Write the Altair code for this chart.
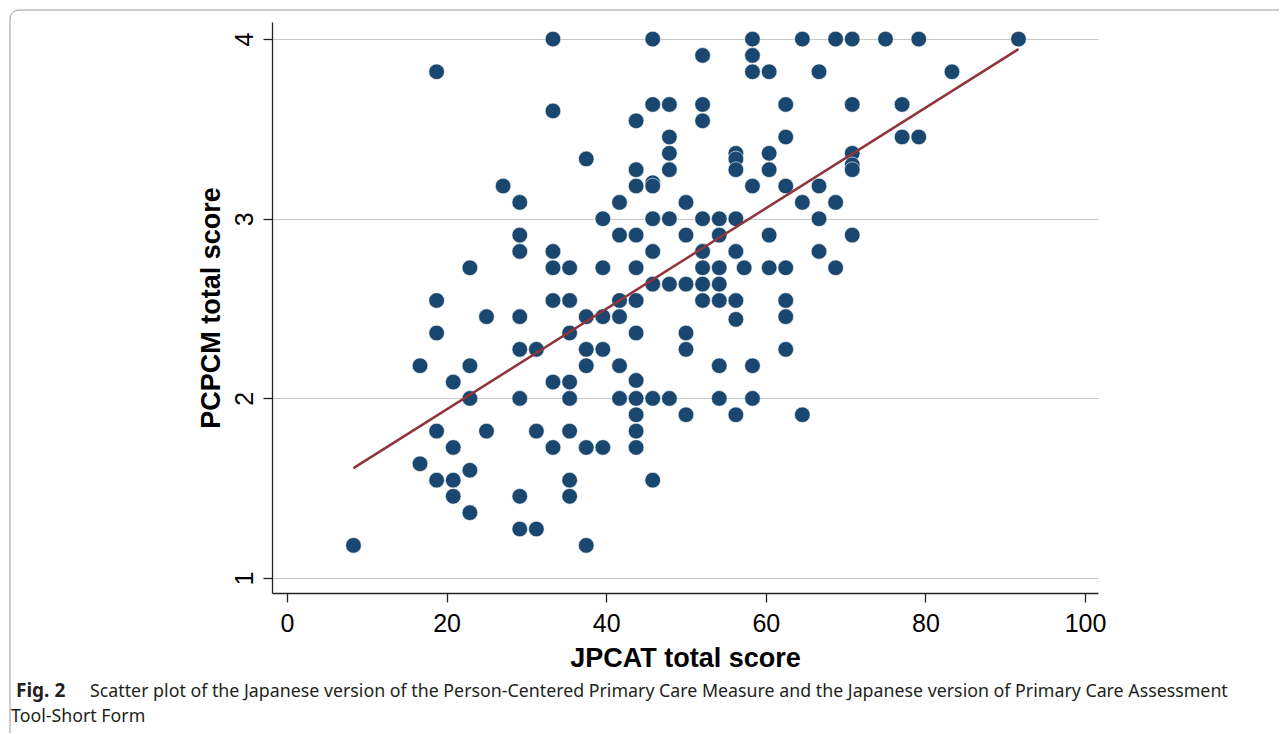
import altair as alt
import pandas as pd

# JPCAT total score (x) for each respondent, grouped by PCPCM level
jpcat = [
    33.33, 45.83, 58.33, 64.58, 68.75, 70.83, 75.0, 79.17, 91.67,
    52.08, 58.33,
    18.75, 58.33, 60.42, 66.67, 83.33,
    45.83, 47.92, 52.08, 62.5, 70.83, 77.08,
    33.33,
    43.75, 52.08,
    47.92, 62.5, 77.08, 79.17,
    47.92, 56.25, 60.42, 70.83,
    37.5, 56.25,
    70.83,
    43.75, 47.92, 56.25, 60.42, 70.83,
    45.83,
    27.08, 43.75, 45.83, 58.33, 62.5, 66.67,
    29.17, 41.67, 50.0, 64.58, 68.75,
    39.58, 45.83, 47.92, 52.08, 54.17, 56.25, 66.67,
    29.17, 41.67, 43.75, 50.0, 54.17, 60.42, 70.83,
    29.17, 33.33, 45.83, 52.08, 56.25, 66.67,
    22.92, 33.33, 35.42, 39.58, 43.75, 52.08, 54.17, 57.29, 60.42, 62.5, 68.75,
    45.83, 47.92, 50.0, 52.08, 54.17,
    18.75, 33.33, 35.42, 41.67, 43.75, 52.08, 54.17, 56.25, 62.5,
    25.0, 29.17, 37.5, 39.58, 41.67, 62.5,
    56.25,
    18.75, 35.42, 43.75, 50.0,
    29.17, 31.25, 37.5, 39.58, 50.0, 62.5,
    16.67, 22.92, 37.5, 41.67, 54.17, 58.33,
    20.83, 33.33, 35.42, 43.75,
    22.92, 29.17, 35.42, 41.67, 43.75, 45.83, 47.92, 54.17, 58.33,
    43.75, 50.0, 56.25, 64.58,
    18.75, 25.0, 31.25, 35.42, 43.75,
    20.83, 33.33, 37.5, 39.58, 43.75,
    16.67,
    22.92,
    18.75, 20.83, 35.42, 45.83,
    20.83, 29.17, 35.42,
    22.92,
    29.17, 31.25,
    8.33, 37.5,
]

# PCPCM total score (y), same order
pcpcm = [
    4.0, 4.0, 4.0, 4.0, 4.0, 4.0, 4.0, 4.0, 4.0,
    3.909, 3.909,
    3.818, 3.818, 3.818, 3.818, 3.818,
    3.636, 3.636, 3.636, 3.636, 3.636, 3.636,
    3.6,
    3.545, 3.545,
    3.455, 3.455, 3.455, 3.455,
    3.364, 3.364, 3.364, 3.364,
    3.333, 3.333,
    3.3,
    3.273, 3.273, 3.273, 3.273, 3.273,
    3.2,
    3.182, 3.182, 3.182, 3.182, 3.182, 3.182,
    3.091, 3.091, 3.091, 3.091, 3.091,
    3.0, 3.0, 3.0, 3.0, 3.0, 3.0, 3.0,
    2.909, 2.909, 2.909, 2.909, 2.909, 2.909, 2.909,
    2.818, 2.818, 2.818, 2.818, 2.818, 2.818,
    2.727, 2.727, 2.727, 2.727, 2.727, 2.727, 2.727, 2.727, 2.727, 2.727, 2.727,
    2.636, 2.636, 2.636, 2.636, 2.636,
    2.545, 2.545, 2.545, 2.545, 2.545, 2.545, 2.545, 2.545, 2.545,
    2.455, 2.455, 2.455, 2.455, 2.455, 2.455,
    2.44,
    2.364, 2.364, 2.364, 2.364,
    2.273, 2.273, 2.273, 2.273, 2.273, 2.273,
    2.182, 2.182, 2.182, 2.182, 2.182, 2.182,
    2.091, 2.091, 2.091, 2.1,
    2.0, 2.0, 2.0, 2.0, 2.0, 2.0, 2.0, 2.0, 2.0,
    1.909, 1.909, 1.909, 1.909,
    1.818, 1.818, 1.818, 1.818, 1.818,
    1.727, 1.727, 1.727, 1.727, 1.727,
    1.636,
    1.6,
    1.545, 1.545, 1.545, 1.545,
    1.455, 1.455, 1.455,
    1.364,
    1.273, 1.273,
    1.182, 1.182,
]

# fitted linear regression line (end points)
fit_x = [8.33, 91.67]
fit_y = [1.612, 3.944]

x_ticks = [0, 20, 40, 60, 80, 100]
y_ticks = [1, 2, 3, 4]
x_title = "JPCAT total score"
y_title = "PCPCM total score"
caption_label = "Fig. 2"
caption_line1 = ("Scatter plot of the Japanese version of the Person-Centered Primary Care "
                 "Measure and the Japanese version of Primary Care Assessment")
caption_line2 = "Tool-Short Form"

df = pd.DataFrame({"jpcat": jpcat, "pcpcm": pcpcm})
fit_df = pd.DataFrame({"jpcat": fit_x, "pcpcm": fit_y})

FONT = "Liberation Sans"
CAP_FONT = "Noto Sans"

xscale = alt.Scale(domain=[-1.88, 101.63], nice=False, zero=False)
yscale = alt.Scale(domain=[0.917, 4.095], nice=False, zero=False)

xaxis = alt.Axis(values=x_ticks, title=x_title, grid=False, format="d",
                 labelFont=FONT, labelFontSize=25, labelColor="#000000", labelPadding=9,
                 titleFont=FONT, titleFontSize=27, titleFontWeight="bold", titleColor="#000000",
                 titlePadding=9, tickSize=9, tickColor="#222222", tickWidth=1.3,
                 domainColor="#222222", domainWidth=1.3)
yaxis = alt.Axis(values=y_ticks, title=y_title, grid=True, gridColor="#c8c8c8", gridWidth=1,
                 format="d",
                 labelFont=FONT, labelFontSize=25, labelColor="#000000", labelAngle=270,
                 labelAlign="center", labelBaseline="bottom", labelPadding=6,
                 titleFont=FONT, titleFontSize=27, titleFontWeight="bold", titleColor="#000000",
                 titlePadding=7, tickSize=9, tickColor="#222222", tickWidth=1.3,
                 domainColor="#222222", domainWidth=1.3)

points = alt.Chart(df).mark_circle(size=245, color="#1a476f", opacity=1, stroke="#ffffff",
                                   strokeWidth=0.6).encode(
    x=alt.X("jpcat:Q", scale=xscale, axis=xaxis),
    y=alt.Y("pcpcm:Q", scale=yscale, axis=yaxis),
)

fit = alt.Chart(fit_df).mark_line(color="#90353b", strokeWidth=2.5).encode(
    x=alt.X("jpcat:Q", scale=xscale),
    y=alt.Y("pcpcm:Q", scale=yscale),
)

one = pd.DataFrame({"k": [0]})

frame = alt.Chart(one).mark_rect(fill=None, stroke="#9a9a9a", strokeWidth=1,
                                 cornerRadius=9).encode(
    x=alt.value(-262), x2=alt.value(1040), y=alt.value(-12), y2=alt.value(740))

cap_a = alt.Chart(one).mark_text(text=caption_label, font=CAP_FONT, fontSize=19,
                                 fontWeight="bold", align="left", baseline="alphabetic",
                                 color="#231f20").encode(x=alt.value(-256), y=alt.value(675))
cap_b = alt.Chart(one).mark_text(text=caption_line1, font=CAP_FONT, fontSize=17.8,
                                 align="left", baseline="alphabetic",
                                 color="#231f20").encode(x=alt.value(-182), y=alt.value(675))
cap_c = alt.Chart(one).mark_text(text=caption_line2, font=CAP_FONT, fontSize=17.8,
                                 align="left", baseline="alphabetic",
                                 color="#231f20").encode(x=alt.value(-261), y=alt.value(700))

chart = alt.layer(points, fit, frame, cap_a, cap_b, cap_c).properties(
    width=826, height=571,
    autosize=alt.AutoSizeParams(type="none"),
    padding={"left": 264, "top": 14, "right": 181, "bottom": 140},
).configure_view(stroke=None)

chart.save("out.html", embed_options={"renderer": "svg", "actions": False})
